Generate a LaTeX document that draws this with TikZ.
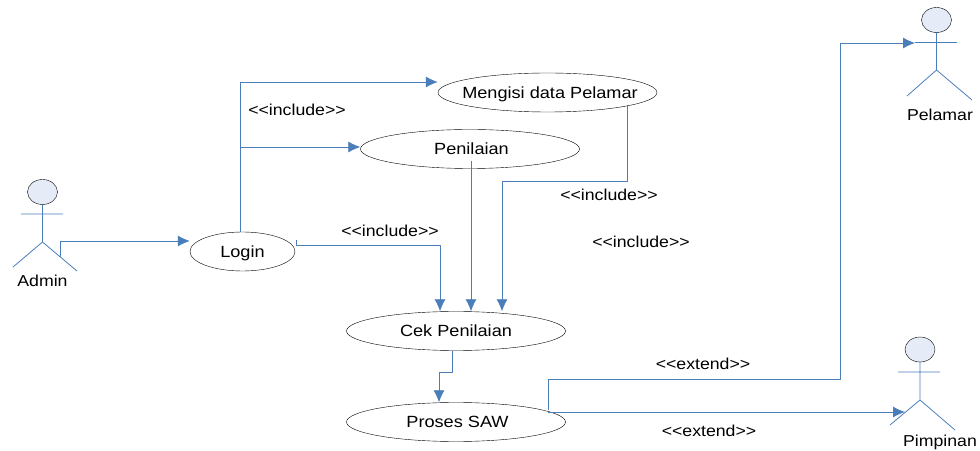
\documentclass[tikz,border=0pt]{standalone}
\usepackage{fontspec}
\setmainfont[FakeStretch=1.12]{Liberation Sans}
\usetikzlibrary{shapes.geometric,arrows.meta}
\definecolor{linkblue}{HTML}{4A7EBB}
\definecolor{headfill}{HTML}{E6ECF7}
\tikzset{
  usecase/.style={draw=black,ellipse,fill=white,inner sep=0pt,text depth=0pt,minimum width=219bp,minimum height=39bp,font=\fontsize{16.2bp}{18bp}\selectfont},
  actorhead/.style={draw=black,ellipse,fill=headfill,inner sep=0pt,minimum width=30bp,minimum height=25bp},
  stereotype/.style={inner sep=0pt,font=\fontsize{15.8bp}{18bp}\selectfont},
  actorlabel/.style={inner sep=0pt,font=\fontsize{15.8bp}{18bp}\selectfont},
  linkline/.style={linkblue,line width=0.8pt,->},
  limbline/.style={linkblue,line width=0.8pt},
}
\begin{document}
\begin{tikzpicture}[>={Latex[length=12bp,width=11bp]},line join=bevel,y=-1bp,x=1bp]
\useasboundingbox (0,0) rectangle (980,451);
%%
\node (node_login) at (242.5,251.5) [usecase,minimum width=105bp] {Login};
  \node (node_mengisi) at (547.5,92.5) [usecase] {\makebox[0pt]{\kern5bp Mengisi data Pelamar}};
  \node (node_penilaian) at (470,149) [usecase] {\kern3bp Penilaian};
  \node (node_cek) at (456,331) [usecase] {Cek Penilaian};
  \node (node_proses) at (456,422) [usecase] {\kern3bp Proses SAW};
%% actors
  \coordinate (hip_admin) at (42.5,242);
  \coordinate (hip_pelamar) at (936.5,70);
  \coordinate (hip_pimpinan) at (920,400);
  \draw [limbline] (42.5,192) -- (hip_admin) -- (13,267) (hip_admin) -- (77,271) (21,214) -- (63,214);
  \draw [limbline] (936.5,20) -- (hip_pelamar) -- (907,96) (hip_pelamar) -- (972,100) (915,42.5) -- (957,42.5);
  \draw [limbline] (920,349.5) -- (hip_pimpinan) -- (890,425) (hip_pimpinan) -- (955,430) (898,372) -- (940,372);
  \node (head_admin) at (42.5,192) [actorhead] {};
  \node (head_pelamar) at (936.5,20) [actorhead] {};
  \node (head_pimpinan) at (920,349.5) [actorhead] {};
  \node (label_admin) at (42.5,281) [actorlabel] {Admin};
  \node (label_pelamar) at (940,115) [actorlabel] {Pelamar};
  \node (label_pimpinan) at (940,442) [actorlabel] {Pimpinan};
%% connectors
  \draw [linkline] (60,257) -- (60,241) -- (node_login.west |- 0,241);
  \draw [linkline] (node_login.north -| 240,0) -- (240,82) -- (node_mengisi.west |- 0,82);
  \draw [linkline] (240,147) -- (node_penilaian.west |- 0,147);
  \draw [linkline] (296,240) -- (296,245) -- (440,245) -- (node_cek.north -| 440,0);
  \draw [linkline] ([yshift=8bp]node_penilaian.south -| 471,0) -- (node_cek.north -| 471,0);
  \draw [linkline] (627,105) -- (627,181) -- (502,181) -- (node_cek.north -| 502,0);
  \draw [linkline] (node_cek.south -| 452,0) -- (452,372) -- (439,372) -- (node_proses.north -| 439,0);
  \draw [linkline] (548,410) -- (548,379) -- (840,379) -- (840,43) -- (915,43);
  \draw [linkline] (548,412) -- (905,412);
%% stereotypes
  \node (tag_1) at (297,110) [stereotype] {<{}<include>{}>};
  \node (tag_2) at (390,231) [stereotype] {<{}<include>{}>};
  \node (tag_3) at (609,195) [stereotype] {<{}<include>{}>};
  \node (tag_4) at (641,242) [stereotype] {<{}<include>{}>};
  \node (tag_5) at (703,364) [stereotype] {<{}<extend>{}>};
  \node (tag_6) at (709,431) [stereotype] {<{}<extend>{}>};
%
\end{tikzpicture}
\end{document}
